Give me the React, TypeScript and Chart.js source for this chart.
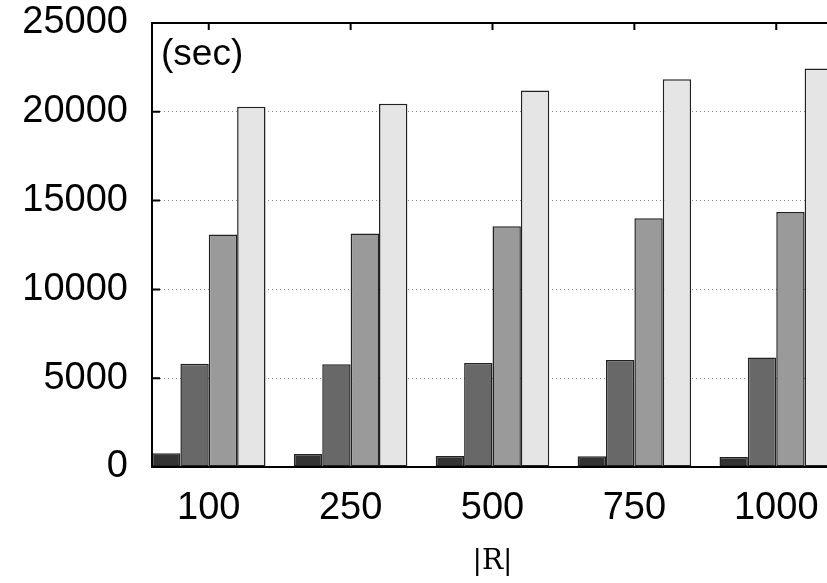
import React, { useEffect, useRef } from "react";
import { Chart, registerables } from "chart.js";

Chart.register(...registerables);

const categories = ["100", "250", "500", "750", "1000"];
const seriesA = [770, 730, 620, 600, 560];
const seriesB = [5820, 5790, 5860, 6030, 6160];
const seriesC = [13090, 13150, 13550, 14000, 14360];
const seriesD = [20280, 20450, 21200, 21830, 22440];
const yTicks = [0, 5000, 10000, 15000, 20000, 25000];
const yUnit = "(sec)";
const xTitle = "|R|";

const seriesList = [seriesA, seriesB, seriesC, seriesD];
const fills = ["#333333", "#686868", "#9a9a9a", "#e5e5e5"];

const FONT = '"Liberation Sans", Arial, Helvetica, sans-serif';

const framePlugin = {
  id: "frame",
  afterDatasetsDraw(chart: any) {
    const { ctx, chartArea: a, scales } = chart;
    ctx.save();
    ctx.strokeStyle = "#000";
    ctx.lineWidth = 2;
    ctx.beginPath();
    yTicks.forEach((v) => {
      const y = scales.y.getPixelForValue(v);
      ctx.moveTo(a.left, y);
      ctx.lineTo(a.left + 8, y);
    });
    categories.forEach((_, i) => {
      const x = scales.x.getPixelForValue(i);
      ctx.moveTo(x, a.top);
      ctx.lineTo(x, a.top + 7);
    });
    ctx.stroke();
    ctx.strokeRect(a.left, a.top, a.right - a.left, a.bottom - a.top);
    ctx.fillStyle = "#000";
    ctx.font = "37px " + FONT;
    ctx.textAlign = "left";
    ctx.textBaseline = "alphabetic";
    ctx.fillText(yUnit, a.left + 9, a.top + 42);
    ctx.restore();
  },
};

export default function App() {
  const ref = useRef<HTMLCanvasElement | null>(null);

  useEffect(() => {
    if (!ref.current) return;
    const chart = new Chart(ref.current, {
      type: "bar",
      data: {
        datasets: seriesList.map((s, k) => ({
          label: "s" + k,
          data: s.map((v, i) => ({ x: i, y: v })),
          backgroundColor: fills[k],
          borderColor: "#222222",
          borderWidth: 1.5,
          borderSkipped: false,
          categoryPercentage: 0.8,
          barPercentage: 1,
        })),
      },
      options: {
        responsive: false,
        animation: false,
        layout: { padding: { top: 23, right: 37, bottom: 0, left: 0 } },
        plugins: {
          legend: { display: false },
          tooltip: { enabled: false },
        },
        scales: {
          x: {
            type: "linear",
            bounds: "data",
            min: -0.4,
            max: 4.4,
            offset: false,
            grid: { display: false, drawTicks: false },
            border: { display: false },
            afterBuildTicks: (s: any) => {
              s.ticks = categories.map((_, i) => ({ value: i }));
            },
            afterFit: (s: any) => {
              s.height = 116;
              s.paddingLeft = 0;
              s.paddingRight = 0;
              s.paddingTop = 0;
              s.paddingBottom = 0;
            },
            ticks: {
              color: "#000",
              font: { family: FONT, size: 38 },
              padding: 19,
              maxRotation: 0,
              autoSkip: false,
              callback: (v: any) => categories[v] ?? "",
            },
            title: {
              display: true,
              text: xTitle,
              color: "#000",
              font: { family: '"DejaVu Serif", serif', size: 28 },
              padding: { top: 0, bottom: 4 },
            },
          },
          y: {
            min: 0,
            max: 25000,
            afterBuildTicks: (s: any) => {
              s.ticks = yTicks.map((v) => ({ value: v }));
            },
            afterFit: (s: any) => {
              s.width = 152;
              s.paddingLeft = 0;
              s.paddingRight = 0;
              s.paddingTop = 0;
              s.paddingBottom = 0;
            },
            grid: { color: "#8a8a8a", lineWidth: 1, drawTicks: false },
            border: { display: false, dash: [1, 3] },
            ticks: {
              color: "#000",
              font: { family: FONT, size: 38 },
              padding: 24,
              callback: (v: any) => String(v),
            },
          },
        },
      },
      plugins: [framePlugin],
    });
    return () => chart.destroy();
  }, []);

  return (
    <div
      style={{
        position: "fixed",
        left: 0,
        top: 0,
        width: 827,
        height: 583,
        overflow: "hidden",
        background: "#fff",
      }}
    >
      <canvas ref={ref} width={870} height={583} style={{ display: "block" }} />
    </div>
  );
}
